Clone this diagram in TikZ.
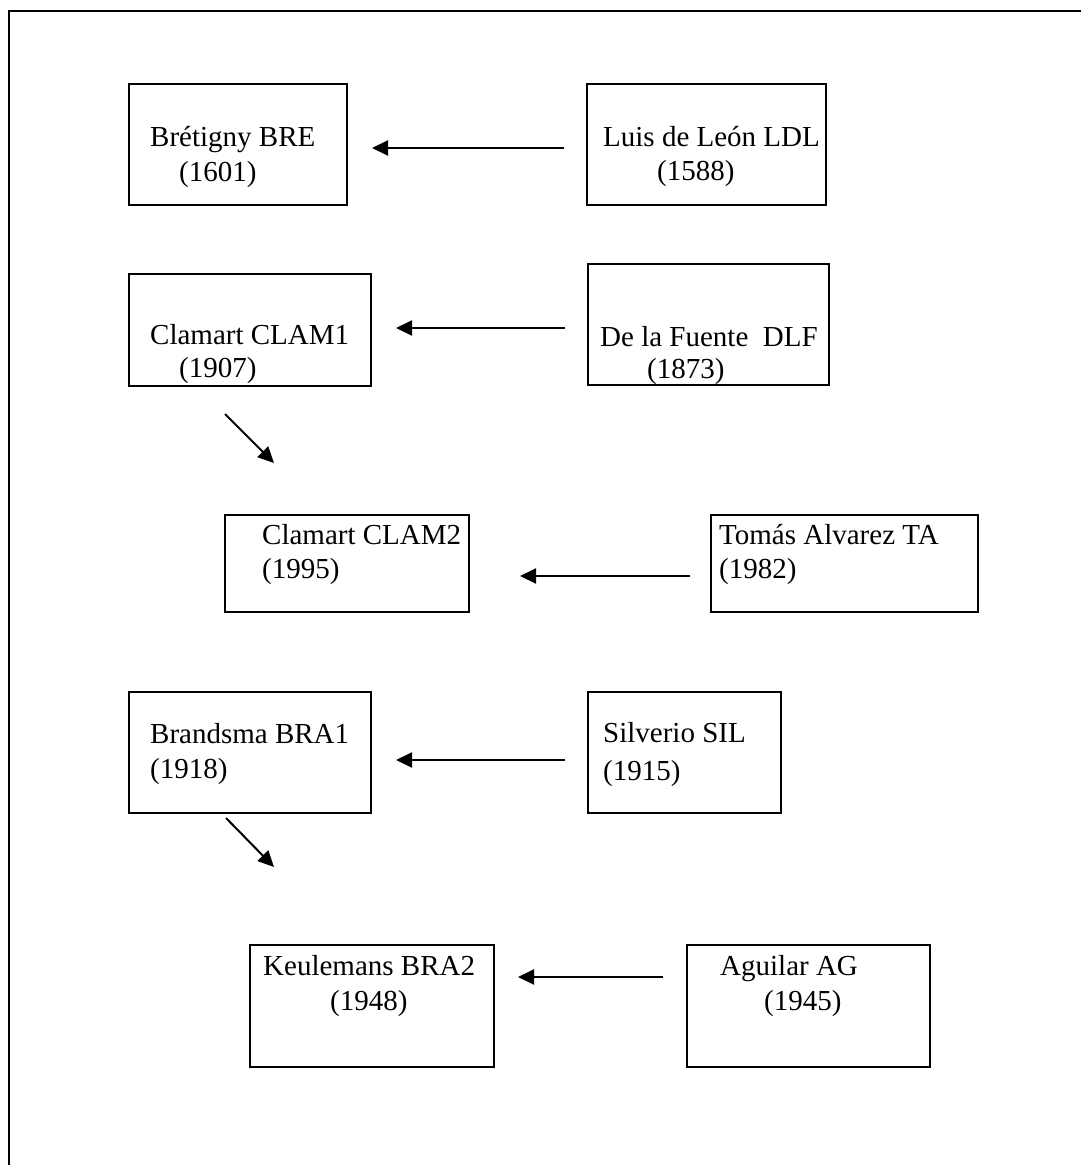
\documentclass[tikz,border=0pt]{standalone}
\usepackage{fontspec}
\setmainfont{Liberation Serif}
\usetikzlibrary{arrows.meta}
\begin{document}
\begin{tikzpicture}[x=1pt,y=-1pt,
  box/.style={draw, line width=2pt, inner sep=0pt, rectangle},
  lbl/.style={anchor=base west, inner sep=0pt, font=\fontsize{29}{34}\selectfont},
  arr/.style={line width=2pt, -{Triangle[length=16pt,width=15pt]}},
  frame/.style={line width=2.5pt}]
\useasboundingbox (0,0) rectangle (1081,1165);
\coordinate (f1) at (9,1165);
\coordinate (f2) at (9,11);
\coordinate (f3) at (1081,11);
\draw[frame] (f1) -- (f2) -- (f3);

% boxes
\node[box, minimum width=218pt, minimum height=121pt] (bre) at (238,144.5) {};
\node[box, minimum width=239pt, minimum height=121pt] (ldl) at (706.5,144.5) {};
\node[box, minimum width=242pt, minimum height=112pt] (clam1) at (250,330) {};
\node[box, minimum width=241pt, minimum height=121pt] (dlf) at (708.5,324.5) {};
\node[box, minimum width=244pt, minimum height=97pt] (clam2) at (347,563.5) {};
\node[box, minimum width=267pt, minimum height=97pt] (ta) at (844.5,563.5) {};
\node[box, minimum width=242pt, minimum height=121pt] (bra1) at (250,752.5) {};
\node[box, minimum width=193pt, minimum height=121pt] (sil) at (684.5,752.5) {};
\node[box, minimum width=244pt, minimum height=122pt] (bra2) at (372,1006) {};
\node[box, minimum width=243pt, minimum height=122pt] (ag) at (808.5,1006) {};

% texts
\node[lbl] (t1a) at (150,146) {Brétigny BRE};
\node[lbl] (t1b) at (179,181) {(1601)};
\node[lbl] (t2a) at (603,146) {Luis de León LDL};
\node[lbl] (t2b) at (657,180) {(1588)};
\node[lbl] (t3a) at (150,344) {Clamart CLAM1};
\node[lbl] (t3b) at (179,377) {(1907)};
\node[lbl] (t4a) at (600,346) {De la Fuente\ \ DLF};
\node[lbl] (t4b) at (647,378) {(1873)};
\node[lbl] (t5a) at (262,544) {Clamart CLAM2};
\node[lbl] (t5b) at (262,578) {(1995)};
\node[lbl] (t6a) at (719,544) {Tomás Alvarez TA};
\node[lbl] (t6b) at (719,578) {(1982)};
\node[lbl] (t7a) at (150,743) {Brandsma BRA1};
\node[lbl] (t7b) at (150,778) {(1918)};
\node[lbl] (t8a) at (603,742) {Silverio SIL};
\node[lbl] (t8b) at (603,780) {(1915)};
\node[lbl] (t9a) at (263,975) {Keulemans BRA2};
\node[lbl] (t9b) at (330,1010) {(1948)};
\node[lbl] (t10a) at (720,975) {Aguilar AG};
\node[lbl] (t10b) at (764,1010) {(1945)};

% arrow end points
\coordinate (a1s) at (564,148);  \coordinate (a1e) at (372,148);
\coordinate (a2s) at (565,328);  \coordinate (a2e) at (396,328);
\coordinate (d1s) at (225,414);  \coordinate (d1e) at (274,463);
\coordinate (a3s) at (690,576);  \coordinate (a3e) at (520,576);
\coordinate (a4s) at (565,760);  \coordinate (a4e) at (396,760);
\coordinate (d2s) at (226,818);  \coordinate (d2e) at (274,867);
\coordinate (a5s) at (663,977);  \coordinate (a5e) at (518,977);

\draw[arr] (a1s) -- (a1e);
\draw[arr] (a2s) -- (a2e);
\draw[arr] (d1s) -- (d1e);
\draw[arr] (a3s) -- (a3e);
\draw[arr] (a4s) -- (a4e);
\draw[arr] (d2s) -- (d2e);
\draw[arr] (a5s) -- (a5e);
\end{tikzpicture}
\end{document}
